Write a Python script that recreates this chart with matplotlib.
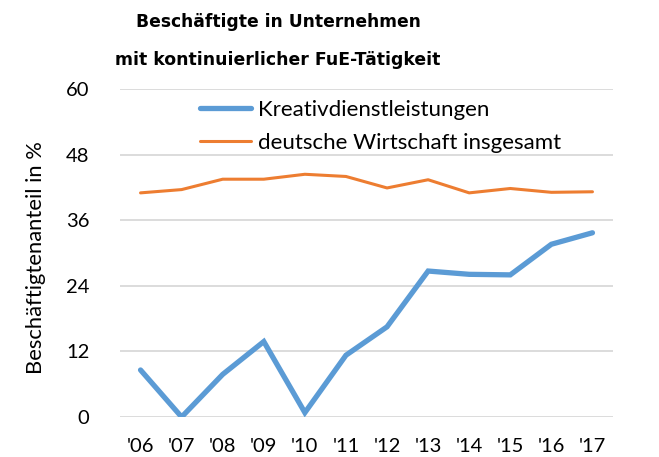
import matplotlib
matplotlib.use("Agg")
import matplotlib.pyplot as plt

years = ["'06", "'07", "'08", "'09", "'10", "'11", "'12", "'13", "'14", "'15", "'16", "'17"]
kreativ = [8.6, 0.0, 7.8, 13.8, 0.8, 11.3, 16.5, 26.7, 26.1, 26.0, 31.6, 33.7]
gesamt = [41.0, 41.6, 43.5, 43.5, 44.4, 44.0, 41.9, 43.4, 41.0, 41.8, 41.1, 41.2]
yticks = [0, 12, 24, 36, 48, 60]

plt.rcParams['font.family'] = ['Lato', 'DejaVu Sans']

fig = plt.figure(figsize=(6.59, 4.57), dpi=100)
ax = fig.add_axes([120/659, 40/457, 493/659, 328/457])

x = list(range(len(years)))
ax.plot(x, kreativ, color='#5B9BD5', lw=3.8, solid_capstyle='round', solid_joinstyle='miter',
        label='Kreativdienstleistungen', zorder=3)
ax.plot(x, gesamt, color='#ED7D31', lw=2.2, solid_capstyle='round',
        label='deutsche Wirtschaft insgesamt', zorder=3)

ax.set_xlim(-0.5, len(years) - 0.5)
ax.set_ylim(0, 60)
ax.set_yticks(yticks)
ax.set_xticks(x)
ax.set_xticklabels(years)
ax.grid(axis='y', color='#D9D9D9', lw=1.3)
ax.set_axisbelow(True)
for s in ax.spines.values():
    s.set_visible(False)
ax.tick_params(axis='both', length=0, labelsize=14.5, colors='black')
ax.tick_params(axis='y', pad=22)
ax.tick_params(axis='x', pad=15)
ax.set_ylabel('Beschäftigtenanteil in %', fontsize=15.8)
ax.yaxis.set_label_coords(-0.150, 0.485)

leg = ax.legend(loc='upper left', bbox_to_anchor=(0.144, 0.994), frameon=False, fontsize=16,
                handlelength=2.3, handletextpad=0.3, labelspacing=0.6, borderaxespad=0)

fig.text(278/659, 1 - 22/457, 'Beschäftigte in Unternehmen', ha='center', va='center',
         fontsize=12.3, fontweight='bold', family='DejaVu Sans')
fig.text(278/659, 1 - 60/457, 'mit kontinuierlicher FuE-Tätigkeit', ha='center', va='center',
         fontsize=12.4, fontweight='bold', family='DejaVu Sans')

fig.savefig('out.png', dpi=100)
